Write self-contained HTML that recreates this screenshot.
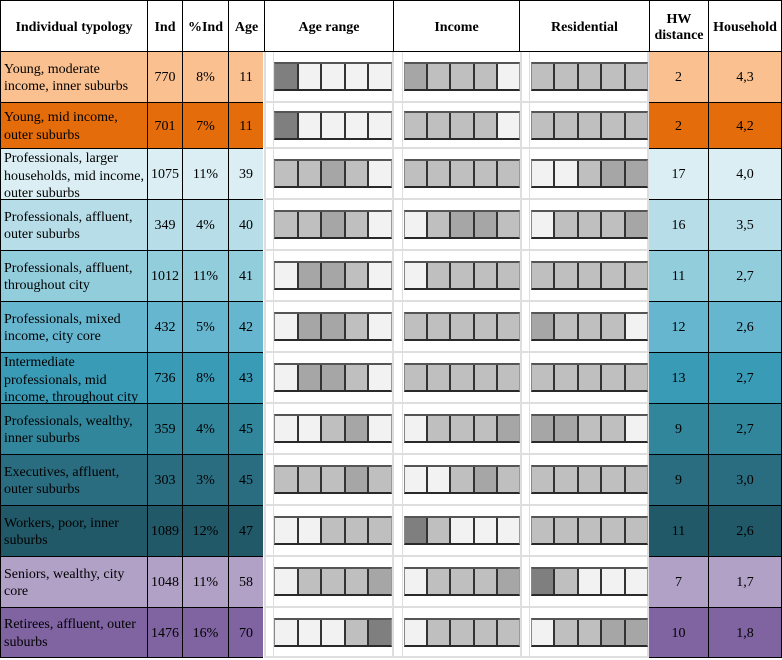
<!DOCTYPE html>
<html><head><meta charset="utf-8">
<style>
*{margin:0;padding:0}
html,body{width:782px;height:660px;background:#fff;overflow:hidden}
body{position:relative;font-family:"Liberation Serif","DejaVu Serif",serif;color:#000}
.h{position:absolute;top:0;height:52px;box-sizing:border-box;border-top:1px solid #000;border-left:1px solid #000;border-bottom:1px solid #000;display:flex;align-items:center;justify-content:center;text-align:center;font-weight:bold;font-size:14px;line-height:16px;padding-top:3px;background:#fff}
.row{position:absolute;left:0;width:782px}
.c{position:absolute;top:0;height:100%;box-sizing:border-box;border-bottom:1px solid #000;display:flex;align-items:center;justify-content:center;font-size:14px;line-height:17.5px;padding-top:2px}
.c1{left:0;width:147px;border-left:1px solid #000;justify-content:flex-start;padding-left:3px;text-align:left}
.c2{left:147px;width:35px;border-left:1px solid #000}
.c3{left:182px;width:46px;border-left:1px solid #000}
.c4{left:228px;width:35px;border-left:1px solid #000}
.c5{left:649px;width:59px}
.c6{left:708px;width:74px;border-left:1px solid #000;border-right:1px solid #000}
.top3{align-items:flex-start;padding-top:1px;overflow:hidden}
.gl{position:absolute;background:#dedede}
.bar{position:absolute;height:29px;box-sizing:border-box;border-top:2px solid #555;border-bottom:2px solid #2a2a2a;border-left:1px solid #888;border-right:1px solid #999;display:flex}
.bar i{flex:1;display:block;border-left:2px solid #333}
.bar i:first-child{border-left:none}
.a{left:274px;width:118px}
.n{left:404px;width:116px}
.r{left:531px;width:117px}
.D{background:#7f7f7f}.M{background:#a6a6a6}.L{background:#bfbfbf}.V{background:#f2f2f2}
</style></head><body>

<!-- header -->
<div class="h" style="left:0;width:147px">Individual typology</div>
<div class="h" style="left:147px;width:35px">Ind</div>
<div class="h" style="left:182px;width:46px">%Ind</div>
<div class="h" style="left:228px;width:36px">Age</div>
<div class="h" style="left:264px;width:129px">Age range</div>
<div class="h" style="left:393px;width:126px">Income</div>
<div class="h" style="left:519px;width:130px">Residential</div>
<div class="h" style="left:649px;width:59px">HW<br>distance</div>
<div class="h" style="left:708px;width:74px;border-right:1px solid #000">Household</div>

<!-- light grid in middle -->
<div class="gl" style="left:264px;top:52px;width:2px;height:606px"></div>
<div class="gl" style="left:273px;top:52px;width:1px;height:606px"></div>
<div class="gl" style="left:392px;top:52px;width:2px;height:606px"></div>
<div class="gl" style="left:402px;top:52px;width:1px;height:606px"></div>
<div class="gl" style="left:520px;top:52px;width:2px;height:606px"></div>
<div class="gl" style="left:529px;top:52px;width:1px;height:606px"></div>
<div class="gl" style="left:647px;top:52px;width:2px;height:606px"></div>
<div class="gl" style="left:264px;top:101px;width:385px;height:2px"></div>
<div class="gl" style="left:264px;top:147px;width:385px;height:2px"></div>
<div class="gl" style="left:264px;top:198px;width:385px;height:2px"></div>
<div class="gl" style="left:264px;top:249px;width:385px;height:2px"></div>
<div class="gl" style="left:264px;top:300px;width:385px;height:2px"></div>
<div class="gl" style="left:264px;top:351px;width:385px;height:2px"></div>
<div class="gl" style="left:264px;top:402px;width:385px;height:2px"></div>
<div class="gl" style="left:264px;top:453px;width:385px;height:2px"></div>
<div class="gl" style="left:264px;top:504px;width:385px;height:2px"></div>
<div class="gl" style="left:264px;top:555px;width:385px;height:2px"></div>
<div class="gl" style="left:264px;top:606px;width:385px;height:2px"></div>
<div class="gl" style="left:264px;top:656px;width:385px;height:2px"></div>

<!-- row 1 -->
<div class="row" style="top:52px;height:51px">
<div class="c c1" style="background:#fac090">Young, moderate<br>income, inner suburbs</div>
<div class="c c2" style="background:#fac090">770</div>
<div class="c c3" style="background:#fac090">8%</div>
<div class="c c4" style="background:#fac090">11</div>
<div class="c c5" style="background:#fac090">2</div>
<div class="c c6" style="background:#fac090">4,3</div>
<div class="bar a" style="top:10px"><i class="D"></i><i class="V"></i><i class="V"></i><i class="V"></i><i class="V"></i></div>
<div class="bar n" style="top:10px"><i class="M"></i><i class="L"></i><i class="L"></i><i class="L"></i><i class="V"></i></div>
<div class="bar r" style="top:10px"><i class="L"></i><i class="L"></i><i class="L"></i><i class="L"></i><i class="L"></i></div>
</div>

<!-- row 2 -->
<div class="row" style="top:103px;height:46px">
<div class="c c1" style="background:#e46c0a">Young, mid income,<br>outer suburbs</div>
<div class="c c2" style="background:#e46c0a">701</div>
<div class="c c3" style="background:#e46c0a">7%</div>
<div class="c c4" style="background:#e46c0a">11</div>
<div class="c c5" style="background:#e46c0a">2</div>
<div class="c c6" style="background:#e46c0a">4,2</div>
<div class="bar a" style="top:8px"><i class="D"></i><i class="V"></i><i class="V"></i><i class="V"></i><i class="V"></i></div>
<div class="bar n" style="top:8px"><i class="L"></i><i class="L"></i><i class="L"></i><i class="L"></i><i class="V"></i></div>
<div class="bar r" style="top:8px"><i class="L"></i><i class="L"></i><i class="L"></i><i class="L"></i><i class="L"></i></div>
</div>

<!-- row 3 -->
<div class="row" style="top:149px;height:51px">
<div class="c c1 top3" style="background:#daeef3">Professionals, larger<br>households, mid income,<br>outer suburbs</div>
<div class="c c2" style="background:#daeef3">1075</div>
<div class="c c3" style="background:#daeef3">11%</div>
<div class="c c4" style="background:#daeef3">39</div>
<div class="c c5" style="background:#daeef3">17</div>
<div class="c c6" style="background:#daeef3">4,0</div>
<div class="bar a" style="top:10px"><i class="L"></i><i class="L"></i><i class="M"></i><i class="L"></i><i class="V"></i></div>
<div class="bar n" style="top:10px"><i class="L"></i><i class="L"></i><i class="L"></i><i class="L"></i><i class="L"></i></div>
<div class="bar r" style="top:10px"><i class="V"></i><i class="V"></i><i class="L"></i><i class="M"></i><i class="M"></i></div>
</div>

<!-- row 4 -->
<div class="row" style="top:200px;height:51px">
<div class="c c1" style="background:#b7dde8">Professionals, affluent,<br>outer suburbs</div>
<div class="c c2" style="background:#b7dde8">349</div>
<div class="c c3" style="background:#b7dde8">4%</div>
<div class="c c4" style="background:#b7dde8">40</div>
<div class="c c5" style="background:#b7dde8">16</div>
<div class="c c6" style="background:#b7dde8">3,5</div>
<div class="bar a" style="top:10px"><i class="L"></i><i class="L"></i><i class="M"></i><i class="L"></i><i class="V"></i></div>
<div class="bar n" style="top:10px"><i class="V"></i><i class="L"></i><i class="M"></i><i class="M"></i><i class="L"></i></div>
<div class="bar r" style="top:10px"><i class="V"></i><i class="L"></i><i class="L"></i><i class="L"></i><i class="M"></i></div>
</div>

<!-- row 5 -->
<div class="row" style="top:251px;height:51px">
<div class="c c1" style="background:#92cddc">Professionals, affluent,<br>throughout city</div>
<div class="c c2" style="background:#92cddc">1012</div>
<div class="c c3" style="background:#92cddc">11%</div>
<div class="c c4" style="background:#92cddc">41</div>
<div class="c c5" style="background:#92cddc">11</div>
<div class="c c6" style="background:#92cddc">2,7</div>
<div class="bar a" style="top:10px"><i class="V"></i><i class="M"></i><i class="M"></i><i class="L"></i><i class="V"></i></div>
<div class="bar n" style="top:10px"><i class="V"></i><i class="L"></i><i class="L"></i><i class="L"></i><i class="L"></i></div>
<div class="bar r" style="top:10px"><i class="L"></i><i class="L"></i><i class="L"></i><i class="L"></i><i class="L"></i></div>
</div>

<!-- row 6 -->
<div class="row" style="top:302px;height:51px">
<div class="c c1" style="background:#66b6cf">Professionals, mixed<br>income, city core</div>
<div class="c c2" style="background:#66b6cf">432</div>
<div class="c c3" style="background:#66b6cf">5%</div>
<div class="c c4" style="background:#66b6cf">42</div>
<div class="c c5" style="background:#66b6cf">12</div>
<div class="c c6" style="background:#66b6cf">2,6</div>
<div class="bar a" style="top:10px"><i class="V"></i><i class="M"></i><i class="M"></i><i class="L"></i><i class="V"></i></div>
<div class="bar n" style="top:10px"><i class="L"></i><i class="L"></i><i class="L"></i><i class="L"></i><i class="L"></i></div>
<div class="bar r" style="top:10px"><i class="M"></i><i class="L"></i><i class="L"></i><i class="L"></i><i class="V"></i></div>
</div>

<!-- row 7 -->
<div class="row" style="top:353px;height:51px">
<div class="c c1 top3" style="background:#3a9bb6">Intermediate<br>professionals, mid<br>income, throughout city</div>
<div class="c c2" style="background:#3a9bb6">736</div>
<div class="c c3" style="background:#3a9bb6">8%</div>
<div class="c c4" style="background:#3a9bb6">43</div>
<div class="c c5" style="background:#3a9bb6">13</div>
<div class="c c6" style="background:#3a9bb6">2,7</div>
<div class="bar a" style="top:10px"><i class="V"></i><i class="M"></i><i class="M"></i><i class="L"></i><i class="V"></i></div>
<div class="bar n" style="top:10px"><i class="L"></i><i class="L"></i><i class="L"></i><i class="L"></i><i class="L"></i></div>
<div class="bar r" style="top:10px"><i class="L"></i><i class="L"></i><i class="L"></i><i class="L"></i><i class="L"></i></div>
</div>

<!-- row 8 -->
<div class="row" style="top:404px;height:51px">
<div class="c c1" style="background:#31869b">Professionals, wealthy,<br>inner suburbs</div>
<div class="c c2" style="background:#31869b">359</div>
<div class="c c3" style="background:#31869b">4%</div>
<div class="c c4" style="background:#31869b">45</div>
<div class="c c5" style="background:#31869b">9</div>
<div class="c c6" style="background:#31869b">2,7</div>
<div class="bar a" style="top:10px"><i class="V"></i><i class="V"></i><i class="L"></i><i class="M"></i><i class="V"></i></div>
<div class="bar n" style="top:10px"><i class="V"></i><i class="L"></i><i class="L"></i><i class="L"></i><i class="M"></i></div>
<div class="bar r" style="top:10px"><i class="M"></i><i class="M"></i><i class="L"></i><i class="L"></i><i class="V"></i></div>
</div>

<!-- row 9 -->
<div class="row" style="top:455px;height:51px">
<div class="c c1" style="background:#2b6d80">Executives, affluent,<br>outer suburbs</div>
<div class="c c2" style="background:#2b6d80">303</div>
<div class="c c3" style="background:#2b6d80">3%</div>
<div class="c c4" style="background:#2b6d80">45</div>
<div class="c c5" style="background:#2b6d80">9</div>
<div class="c c6" style="background:#2b6d80">3,0</div>
<div class="bar a" style="top:10px"><i class="L"></i><i class="L"></i><i class="L"></i><i class="M"></i><i class="L"></i></div>
<div class="bar n" style="top:10px"><i class="V"></i><i class="V"></i><i class="L"></i><i class="M"></i><i class="L"></i></div>
<div class="bar r" style="top:10px"><i class="L"></i><i class="L"></i><i class="L"></i><i class="L"></i><i class="L"></i></div>
</div>

<!-- row 10 -->
<div class="row" style="top:506px;height:51px">
<div class="c c1" style="background:#215968">Workers, poor, inner<br>suburbs</div>
<div class="c c2" style="background:#215968">1089</div>
<div class="c c3" style="background:#215968">12%</div>
<div class="c c4" style="background:#215968">47</div>
<div class="c c5" style="background:#215968">11</div>
<div class="c c6" style="background:#215968">2,6</div>
<div class="bar a" style="top:10px"><i class="V"></i><i class="V"></i><i class="L"></i><i class="L"></i><i class="L"></i></div>
<div class="bar n" style="top:10px"><i class="D"></i><i class="L"></i><i class="V"></i><i class="V"></i><i class="V"></i></div>
<div class="bar r" style="top:10px"><i class="L"></i><i class="L"></i><i class="L"></i><i class="L"></i><i class="L"></i></div>
</div>

<!-- row 11 -->
<div class="row" style="top:557px;height:51px">
<div class="c c1" style="background:#b2a1c7">Seniors, wealthy, city<br>core</div>
<div class="c c2" style="background:#b2a1c7">1048</div>
<div class="c c3" style="background:#b2a1c7">11%</div>
<div class="c c4" style="background:#b2a1c7">58</div>
<div class="c c5" style="background:#b2a1c7">7</div>
<div class="c c6" style="background:#b2a1c7">1,7</div>
<div class="bar a" style="top:10px"><i class="V"></i><i class="L"></i><i class="L"></i><i class="L"></i><i class="M"></i></div>
<div class="bar n" style="top:10px"><i class="V"></i><i class="L"></i><i class="L"></i><i class="L"></i><i class="M"></i></div>
<div class="bar r" style="top:10px"><i class="D"></i><i class="L"></i><i class="V"></i><i class="V"></i><i class="V"></i></div>
</div>

<!-- row 12 -->
<div class="row" style="top:608px;height:50px">
<div class="c c1" style="background:#8064a2">Retirees, affluent, outer<br>suburbs</div>
<div class="c c2" style="background:#8064a2">1476</div>
<div class="c c3" style="background:#8064a2">16%</div>
<div class="c c4" style="background:#8064a2">70</div>
<div class="c c5" style="background:#8064a2">10</div>
<div class="c c6" style="background:#8064a2">1,8</div>
<div class="bar a" style="top:10px"><i class="V"></i><i class="V"></i><i class="V"></i><i class="L"></i><i class="D"></i></div>
<div class="bar n" style="top:10px"><i class="V"></i><i class="L"></i><i class="L"></i><i class="L"></i><i class="L"></i></div>
<div class="bar r" style="top:10px"><i class="V"></i><i class="L"></i><i class="L"></i><i class="M"></i><i class="M"></i></div>
</div>

</body></html>
